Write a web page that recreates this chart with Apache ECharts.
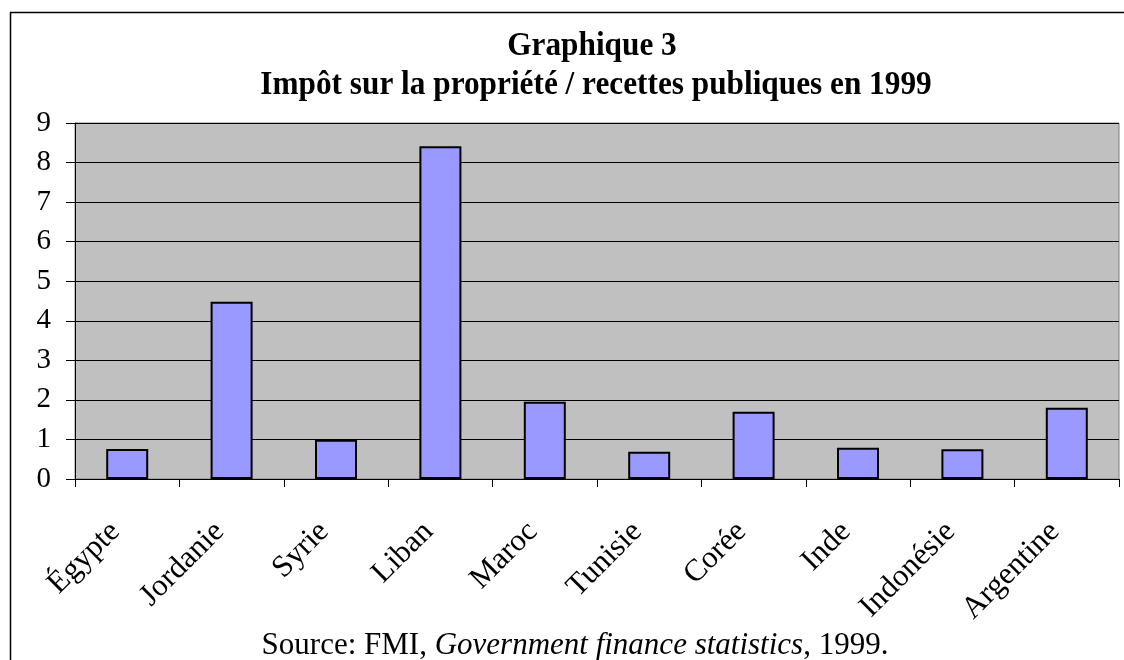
<!DOCTYPE html>
<html>
<head>
<meta charset="utf-8">
<script src="https://cdn.jsdelivr.net/npm/echarts@6/dist/echarts.min.js"></script>
<style>
  html, body { margin: 0; padding: 0; background: #fff; }
  #chart { width: 1124px; height: 660px; }
</style>
</head>
<body>
<div id="chart"></div>
<script>
const categories = ['Égypte', 'Jordanie', 'Syrie', 'Liban', 'Maroc', 'Tunisie', 'Corée', 'Inde', 'Indonésie', 'Argentine'];
const values = [0.76, 4.48, 0.99, 8.41, 1.95, 0.69, 1.7, 0.79, 0.75, 1.8];
const yTicks = [0, 1, 2, 3, 4, 5, 6, 7, 8, 9];

const serif = '"Liberation Serif", "DejaVu Serif", serif';
const chart = echarts.init(document.getElementById('chart'));

// titre un peu condensé comme dans l'original
const titleStyle = { fontFamily: serif, fontWeight: 'bold', fontSize: 34, fill: '#000', textAlign: 'center' };

chart.setOption({
  animation: false,
  grid: { left: 75, right: 5, top: 123, bottom: 181, backgroundColor: '#c0c0c0', show: true, borderColor: '#808080', borderWidth: 1 },
  xAxis: {
    type: 'category',
    data: categories,
    axisLine: { lineStyle: { color: '#000', width: 1 } },
    axisTick: { show: true, length: 8, lineStyle: { color: '#000' } },
    axisLabel: { rotate: 45, fontFamily: serif, fontSize: 31, color: '#000', margin: 36, padding: [0, 17, 0, 0] }
  },
  yAxis: {
    type: 'value',
    min: yTicks[0],
    max: yTicks[yTicks.length - 1],
    interval: 1,
    axisLine: { show: true, lineStyle: { color: '#000', width: 1 } },
    axisTick: { show: true, length: 9, lineStyle: { color: '#000' } },
    axisLabel: { fontFamily: serif, fontSize: 29, color: '#000', margin: 24 },
    splitLine: { lineStyle: { color: '#000', width: 1 } }
  },
  series: [{
    type: 'bar',
    data: values,
    barWidth: 42,
    itemStyle: { color: '#9999ff', borderColor: '#000', borderWidth: 2 }
  }],
  graphic: [
    { type: 'polyline', shape: { points: [[10.5, 660], [10.5, 12.5], [1124, 12.5]] }, style: { stroke: '#000', lineWidth: 1.5, fill: null } },
    { type: 'text', x: 592, y: 29, scaleX: 0.92, style: Object.assign({ text: 'Graphique 3' }, titleStyle) },
    { type: 'text', x: 596, y: 68, scaleX: 0.92, style: Object.assign({ text: 'Impôt sur la propriété / recettes publiques en 1999' }, titleStyle) },
    {
      type: 'text', x: 575, y: 630,
      style: {
        text: '{n|Source: FMI, }{i|Government finance statistics}{n|, 1999.}',
        textAlign: 'center',
        rich: {
          n: { fontFamily: serif, fontSize: 31, fill: '#000' },
          i: { fontFamily: serif, fontSize: 31, fontStyle: 'italic', fill: '#000' }
        }
      }
    }
  ]
});
</script>
</body>
</html>
